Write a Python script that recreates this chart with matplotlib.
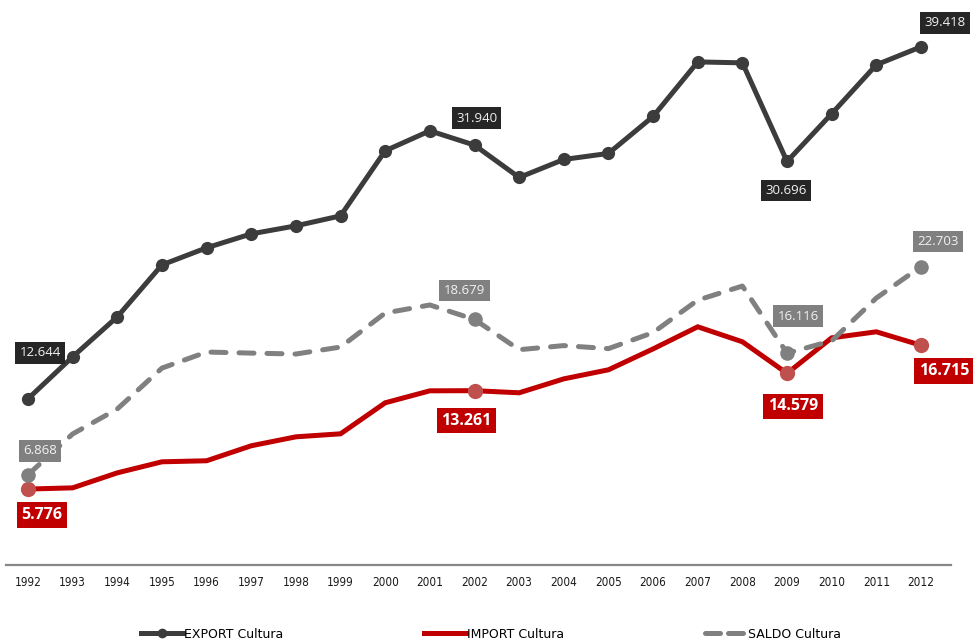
import matplotlib.pyplot as plt
from matplotlib.lines import Line2D

# dati (milioni)
anni = list(range(1992, 2013))
export_cultura = [12.644, 15.84, 18.88, 22.83, 24.13, 25.19, 25.80, 26.56, 31.51, 33.03,
                  31.940, 29.48, 30.85, 31.31, 34.12, 38.27, 38.20, 30.696, 34.33, 38.05, 39.418]
import_cultura = [5.776, 5.87, 7.01, 7.85, 7.93, 9.07, 9.75, 9.98, 12.34, 13.25,
                  13.261, 13.10, 14.16, 14.85, 16.44, 18.12, 16.98, 14.579, 17.28, 17.74, 16.715]
saldo_cultura = [6.868, 9.97, 11.87, 14.98, 16.20, 16.12, 16.05, 16.58, 19.17, 19.78,
                 18.679, 16.38, 16.69, 16.46, 17.68, 20.15, 21.22, 16.116, 17.05, 20.31, 22.703]
anni_etichetta = [1992, 2002, 2009, 2012]

COL_EXP = '#3c3c3c'
COL_EXP_BOX = '#262626'
COL_IMP = '#c00000'
COL_IMP_MK = '#c0504d'
COL_SAL = '#808080'

fig = plt.figure(figsize=(9.73, 6.43), dpi=100)
ax = fig.add_axes([6 / 973, 78 / 643, 945 / 973, 560 / 643])

# linee
ax.plot(anni, import_cultura, color=COL_IMP, lw=3.6, solid_joinstyle='miter', zorder=2)
ln_sal, = ax.plot(anni, saldo_cultura, color=COL_SAL, lw=3.6, dash_capstyle='round', zorder=3)
ln_sal.set_dashes((3, 2.6))
ax.plot(anni, export_cultura, color=COL_EXP, lw=3.6, marker='o', ms=9.5,
        markeredgewidth=0, zorder=4)

idx = [anni.index(a) for a in anni_etichetta]
ax.plot([anni[i] for i in idx], [import_cultura[i] for i in idx], 'o', color=COL_IMP_MK,
        ms=11, mew=0, zorder=5)
ax.plot([anni[i] for i in idx], [saldo_cultura[i] for i in idx], 'o', color=COL_SAL,
        ms=10.5, mew=0, zorder=5)

# etichette dati
off_exp = [(12, 46), (2, 27), (-1, -29), (24, 24)]
off_sal = [(12, 24), (-10, 29), (11, 37), (17, 25)]
off_imp = [(14, -26), (-8, -30), (6, -33), (23, -26)]

for k, i in enumerate(idx):
    v = export_cultura[i]
    ax.annotate(f'{v:.3f}', (anni[i], v), xytext=off_exp[k], textcoords='offset pixels',
                ha='center', va='center', fontsize=9.5, family='Open Sans', color='#f2f2f2',
                bbox=dict(boxstyle='square,pad=0.33', fc=COL_EXP_BOX, ec='none'), zorder=6)
    v = saldo_cultura[i]
    ax.annotate(f'{v:.3f}', (anni[i], v), xytext=off_sal[k], textcoords='offset pixels',
                ha='center', va='center', fontsize=9.5, family='Open Sans', color='#f2f2f2',
                bbox=dict(boxstyle='square,pad=0.33', fc=COL_SAL, ec='none'), zorder=6)
    v = import_cultura[i]
    ax.annotate(f'{v:.3f}', (anni[i], v), xytext=off_imp[k], textcoords='offset pixels',
                ha='center', va='center', fontsize=11.5, family='Open Sans', fontweight='bold',
                color='white',
                bbox=dict(boxstyle='square,pad=0.3', fc=COL_IMP, ec='none'), zorder=6)

# assi
ax.set_xlim(1991.507, 2012.672)
ax.set_ylim(0, 42.6)
for s in ['top', 'right', 'left']:
    ax.spines[s].set_visible(False)
ax.spines['bottom'].set_color('#878787')
ax.spines['bottom'].set_linewidth(1.6)
ax.set_yticks([])
ax.set_xticks(anni)
ax.set_xticklabels([str(a) for a in anni], fontsize=8.5, family='DejaVu Sans',
                   fontstretch='condensed', color='#1a1a1a')
ax.tick_params(axis='x', length=0, pad=8)

# legenda
handles = [
    Line2D([], [], color=COL_EXP, lw=3.6, marker='o', ms=7, mew=0),
    Line2D([], [], color=COL_IMP, lw=3.6),
    Line2D([], [], color=COL_SAL, lw=3.6, dashes=(3, 1.6), dash_capstyle='round'),
]
fig.legend(handles, ['EXPORT Cultura', 'IMPORT Cultura', 'SALDO Cultura'],
           loc='center', bbox_to_anchor=(491 / 973, 9 / 643), ncol=3, frameon=False,
           fontsize=9, handlelength=3.3, handletextpad=0.1, columnspacing=11.3,
           numpoints=1, borderpad=0)

fig.savefig('out.png', dpi=100)
